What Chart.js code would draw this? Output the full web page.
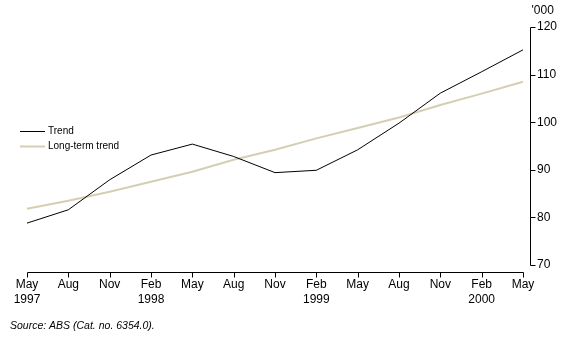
<!DOCTYPE html>
<html>
<head>
<meta charset="utf-8">
<title>Trend and long-term trend</title>
<script src="https://cdn.jsdelivr.net/npm/chart.js@4/dist/chart.umd.min.js"></script>
<style>
  html, body { margin: 0; padding: 0; background: #fff; }
  #wrap { width: 572px; height: 339px; position: relative; }
</style>
</head>
<body>
<div id="wrap"><canvas id="c" width="572" height="339"></canvas></div>
<script>
// Quarterly periods, May 1997 to May 2000
const months = ['May','Aug','Nov','Feb','May','Aug','Nov','Feb','May','Aug','Nov','Feb','May'];
const years  = ['1997','','','1998','','','','1999','','','','2000',''];

// Series values ('000)
const trend     = [78.8, 81.6, 87.9, 93.1, 95.4, 92.8, 89.4, 89.9, 94.2, 99.8, 106.1, 110.6, 115.2];
const longTerm  = [81.8, 83.5, 85.4, 87.5, 89.6, 92.1, 94.2, 96.6, 98.8, 101.0, 103.6, 106.0, 108.5];

// Value axis
const yTicks = [70, 80, 90, 100, 110, 120];
const yUnit = "'000";
const sourceNote = 'Source: ABS (Cat. no. 6354.0).';

const FONT = "'Liberation Sans', Arial, sans-serif";
const TAN = '#d4cfb2';

const labels = months.map((m, i) => [m, years[i]]);

// Axis lines, tick marks, legend, unit and source note
const decorations = {
  id: 'decorations',
  afterDraw(chart) {
    const { ctx, scales: { x, y } } = chart;
    ctx.save();
    ctx.strokeStyle = '#000';
    ctx.lineWidth = 1;

    // horizontal axis sits just below the 70 level
    const axY = Math.round(y.getPixelForValue(yTicks[0])) + 7.5;
    const x0 = Math.round(x.getPixelForValue(0)) + 0.5;
    const x1 = Math.round(x.getPixelForValue(labels.length - 1)) + 0.5;
    ctx.beginPath();
    ctx.moveTo(x0, axY); ctx.lineTo(x1, axY);
    for (let i = 0; i < labels.length; i++) {
      const px = Math.round(x.getPixelForValue(i)) + 0.5;
      ctx.moveTo(px, axY); ctx.lineTo(px, axY + 5);
    }
    ctx.stroke();

    // vertical axis on the right, just beyond the last period
    const axX = Math.round(x.right) + 7.5;
    const yTop = Math.round(y.getPixelForValue(yTicks[yTicks.length - 1])) + 0.5;
    const yBot = Math.round(y.getPixelForValue(yTicks[0])) + 0.5;
    ctx.beginPath();
    ctx.moveTo(axX, yTop); ctx.lineTo(axX, yBot);
    yTicks.forEach(v => {
      const py = Math.round(y.getPixelForValue(v)) + 0.5;
      ctx.moveTo(axX, py); ctx.lineTo(axX + 5, py);
    });
    ctx.stroke();

    // unit label above the value axis
    ctx.fillStyle = '#000';
    ctx.font = '12px ' + FONT;
    ctx.textAlign = 'left';
    ctx.textBaseline = 'middle';
    ctx.fillText(yUnit, axX + 1, 11);

    // legend
    ctx.font = '10px ' + FONT;
    chart.data.datasets.forEach((ds, i) => {
      const ly = 131.5 + i * 15;
      ctx.beginPath();
      ctx.strokeStyle = ds.borderColor;
      ctx.lineWidth = ds.borderWidth;
      ctx.moveTo(20, ly); ctx.lineTo(45, ly);
      ctx.stroke();
      ctx.fillStyle = '#000';
      ctx.fillText(ds.label, 48, ly);
    });

    // source note
    ctx.font = 'italic 10.5px ' + FONT;
    ctx.fillText(sourceNote, 10, 326);
    ctx.restore();
  }
};

new Chart(document.getElementById('c'), {
  type: 'line',
  data: {
    labels: labels,
    datasets: [
      {
        label: 'Trend',
        data: trend,
        borderColor: '#000000',
        borderWidth: 1,
        pointRadius: 0,
        tension: 0,
        order: 1
      },
      {
        label: 'Long-term trend',
        data: longTerm,
        borderColor: TAN,
        borderWidth: 2,
        pointRadius: 0,
        tension: 0,
        order: 2
      }
    ]
  },
  options: {
    responsive: false,
    animation: false,
    devicePixelRatio: 1,
    layout: { padding: { top: 27, left: 27, right: 0, bottom: 0 } },
    plugins: {
      legend: { display: false },
      tooltip: { enabled: false }
    },
    scales: {
      x: {
        type: 'category',
        offset: false,
        grid: { display: false, drawTicks: false },
        border: { display: false },
        ticks: {
          color: '#000',
          font: { family: FONT, size: 12, lineHeight: 1.25 },
          padding: 12,
          maxRotation: 0,
          autoSkip: false
        },
        afterFit(scale) { scale.height = 74; }
      },
      y: {
        position: 'right',
        min: 70,
        max: 120,
        grid: { display: false, drawTicks: false },
        border: { display: false },
        afterBuildTicks(scale) { scale.ticks = yTicks.map(v => ({ value: v })); },
        ticks: {
          color: '#000',
          font: { family: FONT, size: 12 },
          padding: 14
        },
        afterFit(scale) { scale.width = 49; }
      }
    }
  },
  plugins: [decorations]
});
</script>
</body>
</html>
